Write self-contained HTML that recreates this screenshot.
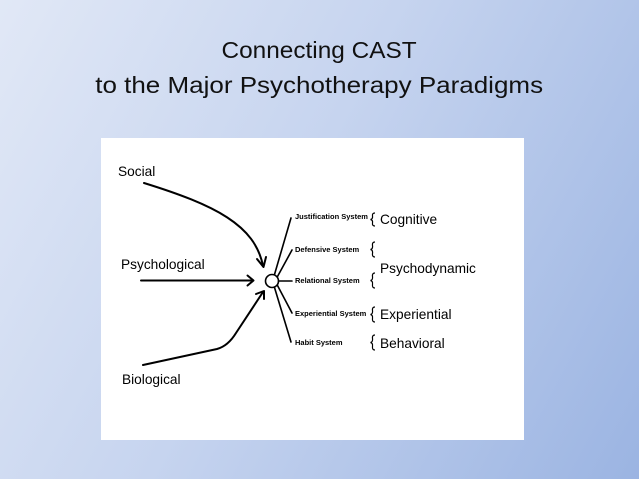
<!DOCTYPE html>
<html>
<head>
<meta charset="utf-8">
<style>
html,body{margin:0;padding:0;}
body{width:639px;height:479px;overflow:hidden;background:linear-gradient(118deg,#e1e8f6 0%,#c6d4ef 45%,#9bb4e2 100%);position:relative;font-family:"Liberation Sans",sans-serif;}
.t{position:absolute;left:0;width:639px;text-align:center;color:#111;font-size:23px;white-space:nowrap;}
.t span{display:inline-block;}
</style>
</head>
<body>
<div class="t" style="top:37px;"><span style="transform:scaleX(1.06);">Connecting CAST</span></div>
<div class="t" style="top:72px;"><span style="transform:scaleX(1.13);">to the Major Psychotherapy Paradigms</span></div>
<svg width="639" height="479" style="position:absolute;left:0;top:0;" xmlns="http://www.w3.org/2000/svg">
  <rect x="101" y="138" width="423" height="302" fill="#ffffff"/>
  <g font-family="Liberation Sans, sans-serif" fill="#000">
    <text x="118" y="176" font-size="13.7">Social</text>
    <text x="121" y="269" font-size="13.7">Psychological</text>
    <text x="122" y="384" font-size="13.7">Biological</text>
    <text x="380" y="224" font-size="13.7">Cognitive</text>
    <text x="380" y="273" font-size="13.7">Psychodynamic</text>
    <text x="380" y="319" font-size="13.7">Experiential</text>
    <text x="380" y="348" font-size="13.7">Behavioral</text>
    <g font-size="7.5" font-weight="bold">
      <text x="295" y="219">Justification System</text>
      <text x="295" y="252">Defensive System</text>
      <text x="295" y="283">Relational System</text>
      <text x="295" y="316">Experiential System</text>
      <text x="295" y="345">Habit System</text>
    </g>
  </g>
  <g fill="none" stroke="#000" stroke-width="2" stroke-linecap="round" stroke-linejoin="round">
    <path d="M144,183 C215,205 255,225 263,266"/>
    <path d="M257,259 L263.5,267 L266,257"/>
    <path d="M141,280.5 L253,280.5"/>
    <path d="M247.5,275.5 L253.5,280.5 L247.5,285.5"/>
    <path d="M143,365 L217,349 Q228,346 236,333 L263,292"/>
    <path d="M256,294 L264,291 L264,299"/>
    <circle cx="272" cy="281" r="6.5" stroke-width="1.6"/>
  </g>
  <g stroke="#000" stroke-width="1.6" stroke-linecap="round">
    <line x1="274.5" y1="274.5" x2="291" y2="218"/>
    <line x1="277.5" y1="276.5" x2="292" y2="250"/>
    <line x1="278.5" y1="281" x2="292" y2="281"/>
    <line x1="277.5" y1="285.5" x2="292" y2="313"/>
    <line x1="274.5" y1="287.5" x2="291" y2="342"/>
  </g>
  <g fill="none" stroke="#000" stroke-width="1.2">
    <path d="M375,213 Q372,213 372.5,216 Q373,219 370.5,219.5 Q373,220 372.5,223 Q372,226 375,226"/>
    <path d="M375,242 Q372,242 372.5,245.5 Q373,249 370.5,249.5 Q373,250 372.5,253.5 Q372,257 375,257"/>
    <path d="M375,273 Q372,273 372.5,276.5 Q373,280 370.5,280.5 Q373,281 372.5,284.5 Q372,288 375,288"/>
    <path d="M375,307 Q372,307 372.5,310.5 Q373,314 370.5,314.5 Q373,315 372.5,318.5 Q372,322 375,322"/>
    <path d="M375,335 Q372,335 372.5,338.5 Q373,342 370.5,342.5 Q373,343 372.5,346.5 Q372,350 375,350"/>
  </g>
</svg>
</body>
</html>
